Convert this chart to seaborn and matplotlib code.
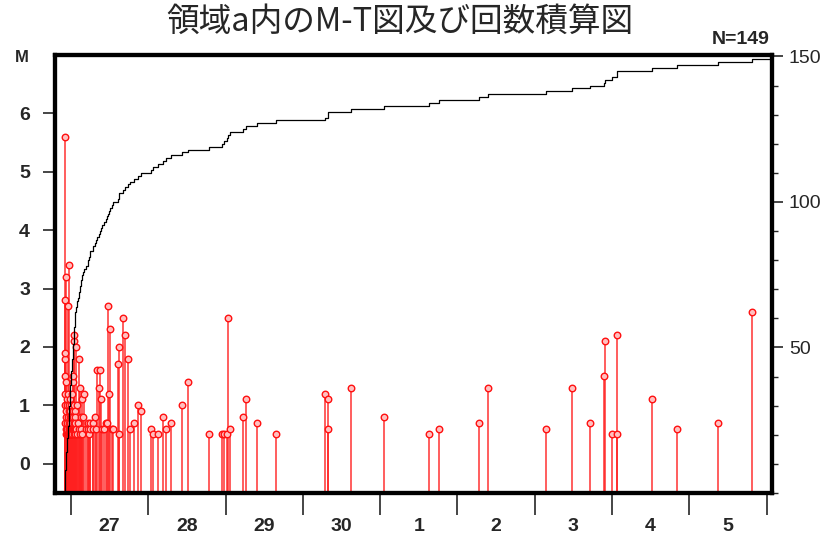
import matplotlib
matplotlib.use("Agg")
import matplotlib.pyplot as plt
import seaborn as sns
import numpy as np
import pandas as pd
from matplotlib.ticker import MultipleLocator

# Event time in hours elapsed since the 27th 00:00, and magnitude of each event
event_hours = [
    -1.86, -1.84, -1.82, -1.80, -1.78, -1.76, -1.74, -1.72, -1.70, -1.68, -1.66, -1.64,
    -1.49, -1.43, -1.37, -1.30, -1.24, -1.18, -1.12, -1.06, -0.99, -0.93, -0.84, -0.78,
    -0.71, -0.68, -0.65, -0.62,
    -0.56, -0.50, -0.47, -0.40, -0.34, -0.31, -0.25, -0.19, -0.16, -0.09, -0.03, 0.00,
    0.06, 0.12, 0.22, 0.28, 0.34, 0.40, 0.47, 0.53, 0.59, 0.65, 0.71, 0.78, 0.84, 0.87,
    0.93, 0.99, 1.02, 1.09, 1.12, 1.18, 1.21, 1.24,
    1.46, 1.55, 1.77, 1.96, 2.14, 2.33, 2.58, 2.67, 2.79, 2.95, 3.11, 3.26, 3.42,
    3.82, 4.13, 4.50, 5.12, 5.37, 5.59, 5.84, 6.05, 6.68, 6.92, 7.45, 7.76, 7.98, 8.79, 9.00,
    9.22, 9.63, 10.25, 10.87, 11.27, 11.58, 11.89,
    12.20, 12.58, 13.04, 14.69, 14.90, 15.00, 16.05, 16.86,
    17.79, 18.32, 19.56, 20.90, 21.64, 24.75, 25.55, 27.11, 28.47, 29.40, 31.05, 34.56, 36.24,
    42.85, 46.89, 47.66, 48.44, 48.84, 49.46, 53.41, 54.34, 57.75, 63.65,
    78.89, 79.78, 79.82, 86.98, 97.27, 111.17, 114.22, 126.70, 129.43, 147.48, 155.57,
    161.26, 165.53, 165.74, 168.05, 169.58, 169.68, 180.53, 188.18, 200.76, 211.37,
]
event_mag = [
    1.0, 0.7, 1.5, 1.8, 1.2, 5.6, 2.8, 1.9, 3.2, 0.5, 0.8, 1.4,
    0.9, 0.6, 1.1, 0.5, 0.7, 1.0, 0.6, 0.8, 0.5, 1.2, 2.7, 0.6,
    3.4, 0.9, 0.5, 0.7,
    0.6, 1.0, 0.5, 0.8, 0.6, 1.1, 0.5, 0.7, 0.9, 0.5, 0.6, 0.8,
    1.0, 0.5, 1.2, 0.6, 0.7, 0.5, 0.9, 1.4, 0.6, 0.8, 1.5, 0.5, 2.1, 0.7,
    0.6, 1.0, 2.2, 0.5, 0.9, 0.6, 0.8, 0.7,
    2.0, 0.6, 1.0, 0.5, 0.7, 0.6, 1.8, 0.5, 1.3, 0.8, 0.6, 0.5, 1.1,
    0.8, 1.2, 0.6, 0.7, 0.6, 0.5, 0.7, 0.6, 0.7, 0.6, 0.8, 0.6, 1.6, 1.3, 1.6,
    1.1, 0.6, 0.6, 0.7, 0.7, 2.7, 1.2,
    2.3, 0.6, 0.6, 1.7, 2.0, 0.5, 2.5, 2.2,
    1.8, 0.6, 0.7, 1.0, 0.9, 0.6, 0.5, 0.5, 0.8, 0.6, 0.7, 1.0, 1.4,
    0.5, 0.5, 0.5, 0.5, 2.5, 0.6, 0.8, 1.1, 0.7, 0.5,
    1.2, 1.1, 0.6, 1.3, 0.8, 0.5, 0.6, 0.7, 1.3, 0.6, 1.3,
    0.7, 1.5, 2.1, 0.5, 2.2, 0.5, 1.1, 0.6, 0.7, 2.6,
]

day_labels = ["27", "28", "29", "30", "1", "2", "3", "4", "5"]
title_text = "領域a内のM-T図及び回数積算図"

sns.set_style("white")
plt.rcParams["font.family"] = ["Liberation Sans", "Noto Sans CJK JP", "DejaVu Sans"]

df = pd.DataFrame({"hours": event_hours, "mag": event_mag}).sort_values("hours")
df["count"] = np.arange(1, len(df) + 1)

x_min, x_max = -5.0, 217.7
m_bottom, m_top = -0.5, 7.0

fig = plt.figure(figsize=(8.32, 5.34), dpi=100)
ax = fig.add_axes([0.066, 0.077, 0.862, 0.820])

# M-T stems and markers
ax.vlines(df["hours"], m_bottom, df["mag"], color="#ff2020", lw=1.2, alpha=0.85, zorder=2)
sns.scatterplot(data=df, x="hours", y="mag", ax=ax, marker="o", s=22,
                color="#ffc0c0", edgecolor="#ff1010", linewidth=1.0, zorder=3)

ax.set_xlim(x_min, x_max)
ax.set_ylim(m_bottom, m_top)
ax.set_xlabel("")
ax.set_ylabel("")

# cumulative number on the right axis
ax2 = ax.twinx()
start = pd.DataFrame({"hours": [df["hours"].iloc[0]], "count": [0]})
end = pd.DataFrame({"hours": [x_max], "count": [len(df)]})
steps = pd.concat([start, df[["hours", "count"]], end], ignore_index=True)
sns.lineplot(data=steps, x="hours", y="count", ax=ax2, color="black", lw=0.9,
             drawstyle="steps-post", estimator=None, sort=False)
ax2.set_ylim(0, 150.5)
ax2.set_xlim(x_min, x_max)
ax2.set_ylabel("")

for a in (ax, ax2):
    for s in a.spines.values():
        s.set_linewidth(3)
        s.set_color("black")
        s.set_visible(True)

# left axis (M)
ax.set_yticks(range(0, 7))
ax.tick_params(axis="y", which="major", left=True, direction="out",
               length=9, width=1.2, labelsize=14, pad=9)
for lab in ax.get_yticklabels():
    lab.set_fontweight("bold")

# bottom axis: ticks at day boundaries, labels at midday
ax.set_xticks(np.arange(0, 217, 24))
ax.set_xticklabels([])
ax.set_xticks(np.arange(12, 205, 24), minor=True)
ax.set_xticklabels(day_labels, minor=True, fontweight="bold", fontsize=14)
ax.tick_params(axis="x", which="major", bottom=True, direction="out", length=16, width=1.2)
ax.tick_params(axis="x", which="minor", bottom=True, length=0, pad=18)

# right axis (count)
ax2.set_yticks([50, 100, 150])
ax2.yaxis.set_minor_locator(MultipleLocator(10))
ax2.tick_params(axis="y", which="major", right=True, direction="out",
                length=8, width=1.2, labelsize=14, pad=4)
ax2.tick_params(axis="y", which="minor", right=True, direction="out", length=4, width=1)

fig.text(22 / 832, 1 - 57 / 534, "M", fontsize=12, fontweight="bold", ha="center", va="center")
fig.text(741 / 832, 1 - 40 / 534, f"N={len(df)}", fontsize=14, fontweight="bold",
         ha="center", va="center")
fig.text(400 / 832, 1 - 22 / 534, title_text, fontsize=23.5, ha="center", va="center",
         family=["Noto Sans CJK JP", "DejaVu Sans"])

fig.savefig("out.png", dpi=100)
